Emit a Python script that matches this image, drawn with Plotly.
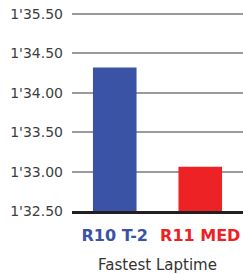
import plotly.graph_objects as go

categories = ["R10 T-2", "R11 MED"]
laptimes = [94.32, 93.06]  # seconds
bar_colors = ["#3b53a4", "#ed2224"]
tick_vals = [92.5, 93.0, 93.5, 94.0, 94.5, 95.0]
tick_text = ["1'32.50", "1'33.00", "1'33.50", "1'34.00", "1'34.50", "1'35.50"]

cat_labels = [f"<span style='color:{c}'><b>{n}</b></span>" for n, c in zip(categories, bar_colors)]

fig = go.Figure(go.Bar(
    x=categories, y=laptimes, marker=dict(color=bar_colors, line=dict(width=0)),
    width=0.51,
))

fig.update_layout(
    width=243, height=274,
    margin=dict(l=72, r=0, t=10, b=63),
    paper_bgcolor="white", plot_bgcolor="white",
    showlegend=False,
    font=dict(family="DejaVu Sans", color="#333333"),
    xaxis=dict(
        tickmode="array", tickvals=categories, ticktext=cat_labels,
        tickfont=dict(size=16, family="DejaVu Sans"),
        showline=True, linecolor="#231f20", linewidth=2.5,
        ticks="outside", ticklen=8, tickcolor="rgba(0,0,0,0)",
        showgrid=False,
        title=dict(text="Fastest Laptime", font=dict(size=15, color="#333333"), standoff=17),
        automargin=False,
        ticklabeloverflow="allow",
        fixedrange=True,
    ),
    yaxis=dict(
        range=[92.5, 95.0508],
        tickmode="array", tickvals=tick_vals, ticktext=tick_text,
        tickfont=dict(size=14, color="#3d3d3d"),
        showgrid=True, gridcolor="#9a9a9a", gridwidth=2,
        zeroline=False, showline=False,
        ticklabelstandoff=8,
        ticklabeloverflow="allow",
        automargin=False,
        fixedrange=True,
    ),
)

fig.write_html(
    "out.html",
    config={"displayModeBar": False, "staticPlot": True},
    post_script="document.body.style.margin='0';document.body.style.overflow='hidden';",
)
